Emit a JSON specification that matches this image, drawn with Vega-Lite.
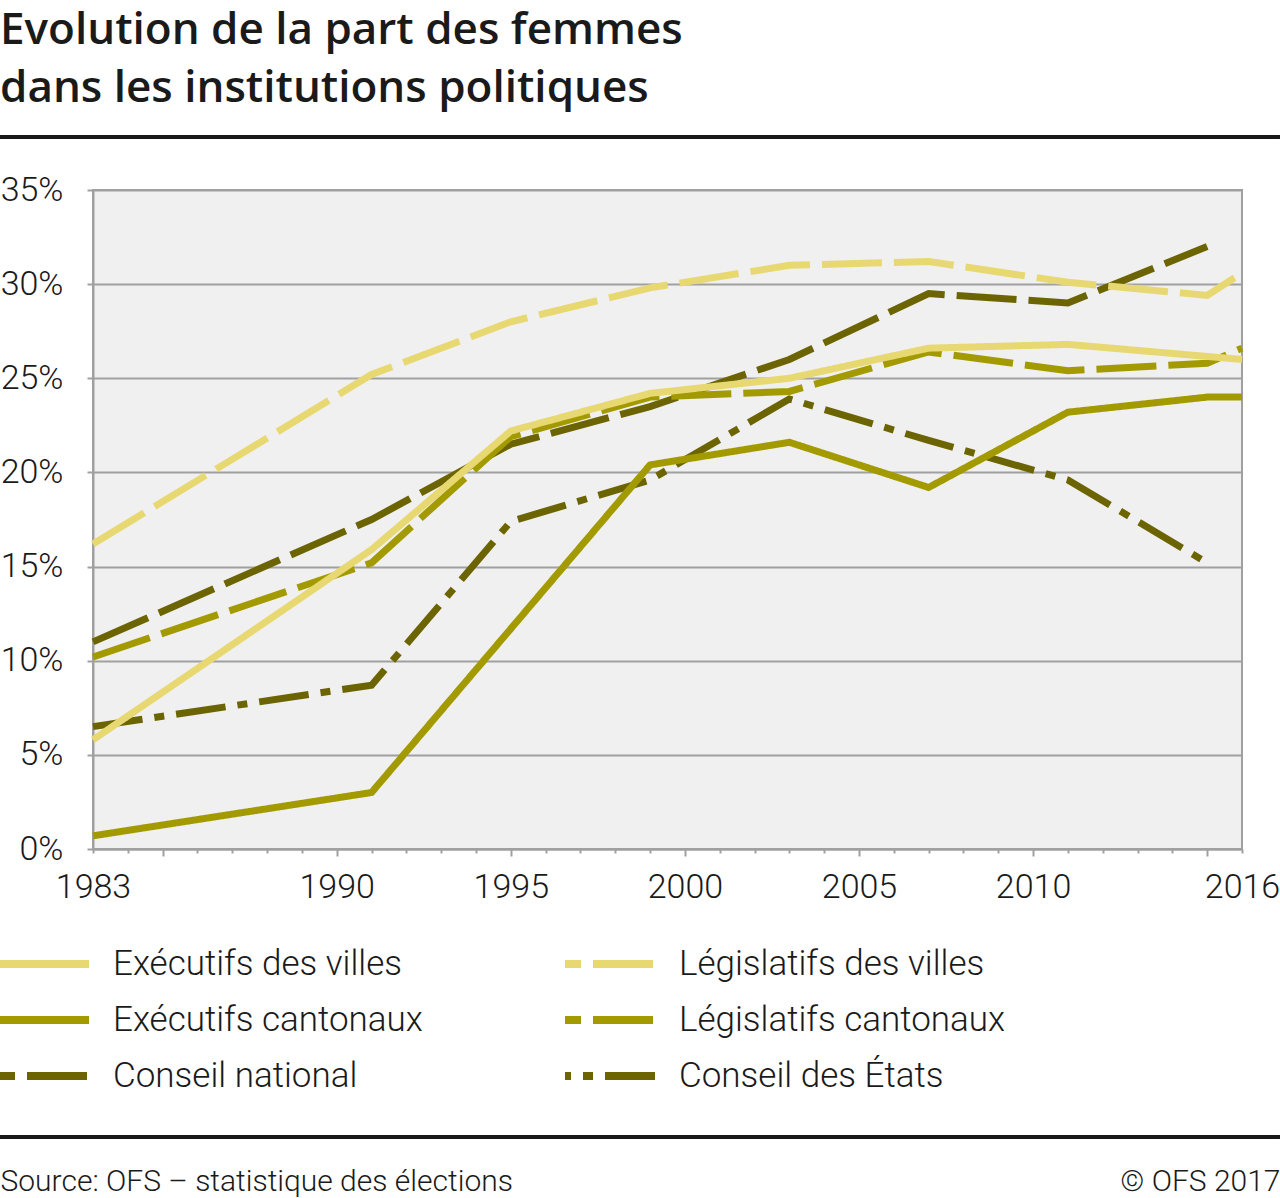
{
  "$schema": "https://vega.github.io/schema/vega-lite/v6.json",
  "autosize": "none",
  "width": 1149,
  "height": 659,
  "padding": {"left": 93, "top": 190, "right": 38, "bottom": 349},
  "background": "white",
  "title": {
    "text": ["Evolution de la part des femmes", "dans les institutions politiques"],
    "anchor": "start",
    "frame": "group",
    "dx": -93,
    "font": "Open Sans",
    "fontSize": 44,
    "fontWeight": 600,
    "lineHeight": 58,
    "baseline": "alphabetic",
    "offset": -10,
    "color": "#1a1a1a"
  },
  "config": {
    "font": "Roboto",
    "view": {"fill": "#f0f0f0", "stroke": "#a0a0a0", "strokeWidth": 2},
    "axis": {
      "labelFont": "Roboto",
      "labelFontWeight": 300,
      "labelFontSize": 34,
      "labelColor": "#1a1a1a",
      "domainColor": "#a0a0a0",
      "domainWidth": 2,
      "tickColor": "#a0a0a0",
      "tickWidth": 2,
      "titleFont": "Roboto",
      "titleFontWeight": 300,
      "titleFontSize": 30,
      "titleColor": "#1a1a1a"
    },
    "axisX": {
      "titleAnchor": "start",
      "titleAlign": "left",
      "titleX": -93,
      "titleY": 341,
      "titleBaseline": "alphabetic",
      "format": "d",
      "labelExpr": "indexof([1983,1990,1995,2000,2005,2010,2016], datum.value) >= 0 ? datum.label : ''",
      "labelOverlap": false,
      "labelFlush": false,
      "labelBound": false,
      "labelPadding": {"condition": {"test": "datum.value % 5 === 0", "value": 14}, "value": 17},
      "tickSize": {"condition": {"test": "datum.value % 5 === 0", "value": 7}, "value": 4},
      "grid": false
    },
    "axisY": {
      "titleAngle": 0,
      "titleAlign": "right",
      "titleX": 1187,
      "titleY": 1000,
      "titleBaseline": "alphabetic",
      "labelExpr": "datum.value + '%'",
      "labelPadding": 24,
      "labelBaseline": "middle",
      "labelOverlap": false,
      "tickSize": 6,
      "grid": true,
      "gridColor": "#a0a0a0",
      "gridWidth": 1.8
    }
  },
  "data": {
    "values": [
      {"serie": "Conseil des États", "annee": 1983, "part": 6.5},
      {"serie": "Conseil des États", "annee": 1991, "part": 8.7},
      {"serie": "Conseil des États", "annee": 1995, "part": 17.4},
      {"serie": "Conseil des États", "annee": 1999, "part": 19.6},
      {"serie": "Conseil des États", "annee": 2003, "part": 23.9},
      {"serie": "Conseil des États", "annee": 2007, "part": 21.7},
      {"serie": "Conseil des États", "annee": 2011, "part": 19.6},
      {"serie": "Conseil des États", "annee": 2015, "part": 15.2},
      {"serie": "Conseil national", "annee": 1983, "part": 11.0},
      {"serie": "Conseil national", "annee": 1991, "part": 17.5},
      {"serie": "Conseil national", "annee": 1995, "part": 21.5},
      {"serie": "Conseil national", "annee": 1999, "part": 23.5},
      {"serie": "Conseil national", "annee": 2003, "part": 26.0},
      {"serie": "Conseil national", "annee": 2007, "part": 29.5},
      {"serie": "Conseil national", "annee": 2011, "part": 29.0},
      {"serie": "Conseil national", "annee": 2015, "part": 32.0},
      {"serie": "Législatifs cantonaux", "annee": 1983, "part": 10.2},
      {"serie": "Législatifs cantonaux", "annee": 1991, "part": 15.2},
      {"serie": "Législatifs cantonaux", "annee": 1995, "part": 21.9},
      {"serie": "Législatifs cantonaux", "annee": 1999, "part": 24.0},
      {"serie": "Législatifs cantonaux", "annee": 2003, "part": 24.3},
      {"serie": "Législatifs cantonaux", "annee": 2007, "part": 26.4},
      {"serie": "Législatifs cantonaux", "annee": 2011, "part": 25.4},
      {"serie": "Législatifs cantonaux", "annee": 2015, "part": 25.8},
      {"serie": "Législatifs cantonaux", "annee": 2016, "part": 26.6},
      {"serie": "Exécutifs cantonaux", "annee": 1983, "part": 0.7},
      {"serie": "Exécutifs cantonaux", "annee": 1991, "part": 3.0},
      {"serie": "Exécutifs cantonaux", "annee": 1999, "part": 20.4},
      {"serie": "Exécutifs cantonaux", "annee": 2003, "part": 21.6},
      {"serie": "Exécutifs cantonaux", "annee": 2007, "part": 19.2},
      {"serie": "Exécutifs cantonaux", "annee": 2011, "part": 23.2},
      {"serie": "Exécutifs cantonaux", "annee": 2015, "part": 24.0},
      {"serie": "Exécutifs cantonaux", "annee": 2016, "part": 24.0},
      {"serie": "Législatifs des villes", "annee": 1983, "part": 16.2},
      {"serie": "Législatifs des villes", "annee": 1991, "part": 25.2},
      {"serie": "Législatifs des villes", "annee": 1995, "part": 28.0},
      {"serie": "Législatifs des villes", "annee": 1999, "part": 29.8},
      {"serie": "Législatifs des villes", "annee": 2003, "part": 31.0},
      {"serie": "Législatifs des villes", "annee": 2007, "part": 31.2},
      {"serie": "Législatifs des villes", "annee": 2011, "part": 30.1},
      {"serie": "Législatifs des villes", "annee": 2015, "part": 29.4},
      {"serie": "Législatifs des villes", "annee": 2016, "part": 30.6},
      {"serie": "Exécutifs des villes", "annee": 1983, "part": 5.8},
      {"serie": "Exécutifs des villes", "annee": 1991, "part": 15.9},
      {"serie": "Exécutifs des villes", "annee": 1995, "part": 22.2},
      {"serie": "Exécutifs des villes", "annee": 1999, "part": 24.2},
      {"serie": "Exécutifs des villes", "annee": 2003, "part": 25.0},
      {"serie": "Exécutifs des villes", "annee": 2007, "part": 26.6},
      {"serie": "Exécutifs des villes", "annee": 2011, "part": 26.8},
      {"serie": "Exécutifs des villes", "annee": 2016, "part": 26.0}
    ]
  },
  "layer": [
    {
      "mark": {"type": "line", "strokeWidth": 7, "strokeCap": "butt", "strokeJoin": "miter"},
      "encoding": {
        "x": {
          "field": "annee",
          "type": "quantitative",
          "title": "Source: OFS – statistique des élections",
          "scale": {"domain": [1983, 2016], "nice": false, "zero": false},
          "axis": {
            "values": [1983,1984,1985,1986,1987,1988,1989,1990,1991,1992,1993,1994,1995,1996,1997,1998,1999,2000,2001,2002,2003,2004,2005,2006,2007,2008,2009,2010,2011,2012,2013,2014,2015,2016]
          }
        },
        "y": {
          "field": "part",
          "type": "quantitative",
          "title": "© OFS 2017",
          "scale": {"domain": [0, 35], "nice": false},
          "axis": {"values": [0, 5, 10, 15, 20, 25, 30, 35]}
        },
        "color": {
          "field": "serie",
          "type": "nominal",
          "scale": {
            "domain": ["Exécutifs des villes", "Législatifs des villes", "Exécutifs cantonaux", "Législatifs cantonaux", "Conseil national", "Conseil des États"],
            "range": ["#e8d872", "#e8d872", "#a39a00", "#a39a00", "#6b6400", "#6b6400"]
          },
          "legend": {
            "title": null,
            "orient": "none",
            "direction": "horizontal",
            "legendX": -98,
            "legendY": 754,
            "columns": 2,
            "symbolType": "stroke",
            "symbolSize": 8100,
            "symbolStrokeWidth": 8,
            "symbolDashOffset": 44,
            "labelFont": "Roboto",
            "labelFontWeight": 300,
            "labelFontSize": 35,
            "labelColor": "#1a1a1a",
            "labelLimit": 800,
            "labelOffset": 20,
            "clipHeight": 40,
            "rowPadding": 16,
            "columnPadding": 138,
            "padding": 0
          }
        },
        "strokeDash": {
          "field": "serie",
          "type": "nominal",
          "scale": {
            "domain": ["Exécutifs des villes", "Législatifs des villes", "Exécutifs cantonaux", "Législatifs cantonaux", "Conseil national", "Conseil des États"],
            "range": [[1, 0], [60, 12], [1, 0], [60, 12], [60, 12], [50, 12, 10, 12]]
          },
          "legend": {
            "title": null,
            "orient": "none",
            "direction": "horizontal",
            "legendX": -98,
            "legendY": 754,
            "columns": 2,
            "symbolType": "stroke",
            "symbolSize": 8100,
            "symbolStrokeWidth": 8,
            "symbolDashOffset": 44,
            "labelFont": "Roboto",
            "labelFontWeight": 300,
            "labelFontSize": 35,
            "labelColor": "#1a1a1a",
            "labelLimit": 800,
            "labelOffset": 20,
            "clipHeight": 40,
            "rowPadding": 16,
            "columnPadding": 138,
            "padding": 0
          }
        }
      }
    },
    {
      "mark": {"type": "rule", "color": "#1a1a1a", "strokeWidth": 2.5},
      "encoding": {
        "x": {
          "datum": 1980.33,
          "title": "Source: OFS – statistique des élections",
          "axis": {
            "values": [1983,1984,1985,1986,1987,1988,1989,1990,1991,1992,1993,1994,1995,1996,1997,1998,1999,2000,2001,2002,2003,2004,2005,2006,2007,2008,2009,2010,2011,2012,2013,2014,2015,2016]
          }
        },
        "x2": {"datum": 2017.09},
        "y": {"datum": 37.815, "title": "© OFS 2017", "axis": {"values": [0, 5, 10, 15, 20, 25, 30, 35]}}
      }
    },
    {
      "mark": {"type": "rule", "color": "#1a1a1a", "strokeWidth": 2.5},
      "encoding": {
        "x": {
          "datum": 1980.33,
          "title": "Source: OFS – statistique des élections",
          "axis": {
            "values": [1983,1984,1985,1986,1987,1988,1989,1990,1991,1992,1993,1994,1995,1996,1997,1998,1999,2000,2001,2002,2003,2004,2005,2006,2007,2008,2009,2010,2011,2012,2013,2014,2015,2016]
          }
        },
        "x2": {"datum": 2017.09},
        "y": {"datum": -15.29, "title": "© OFS 2017", "axis": {"values": [0, 5, 10, 15, 20, 25, 30, 35]}}
      }
    }
  ]
}
